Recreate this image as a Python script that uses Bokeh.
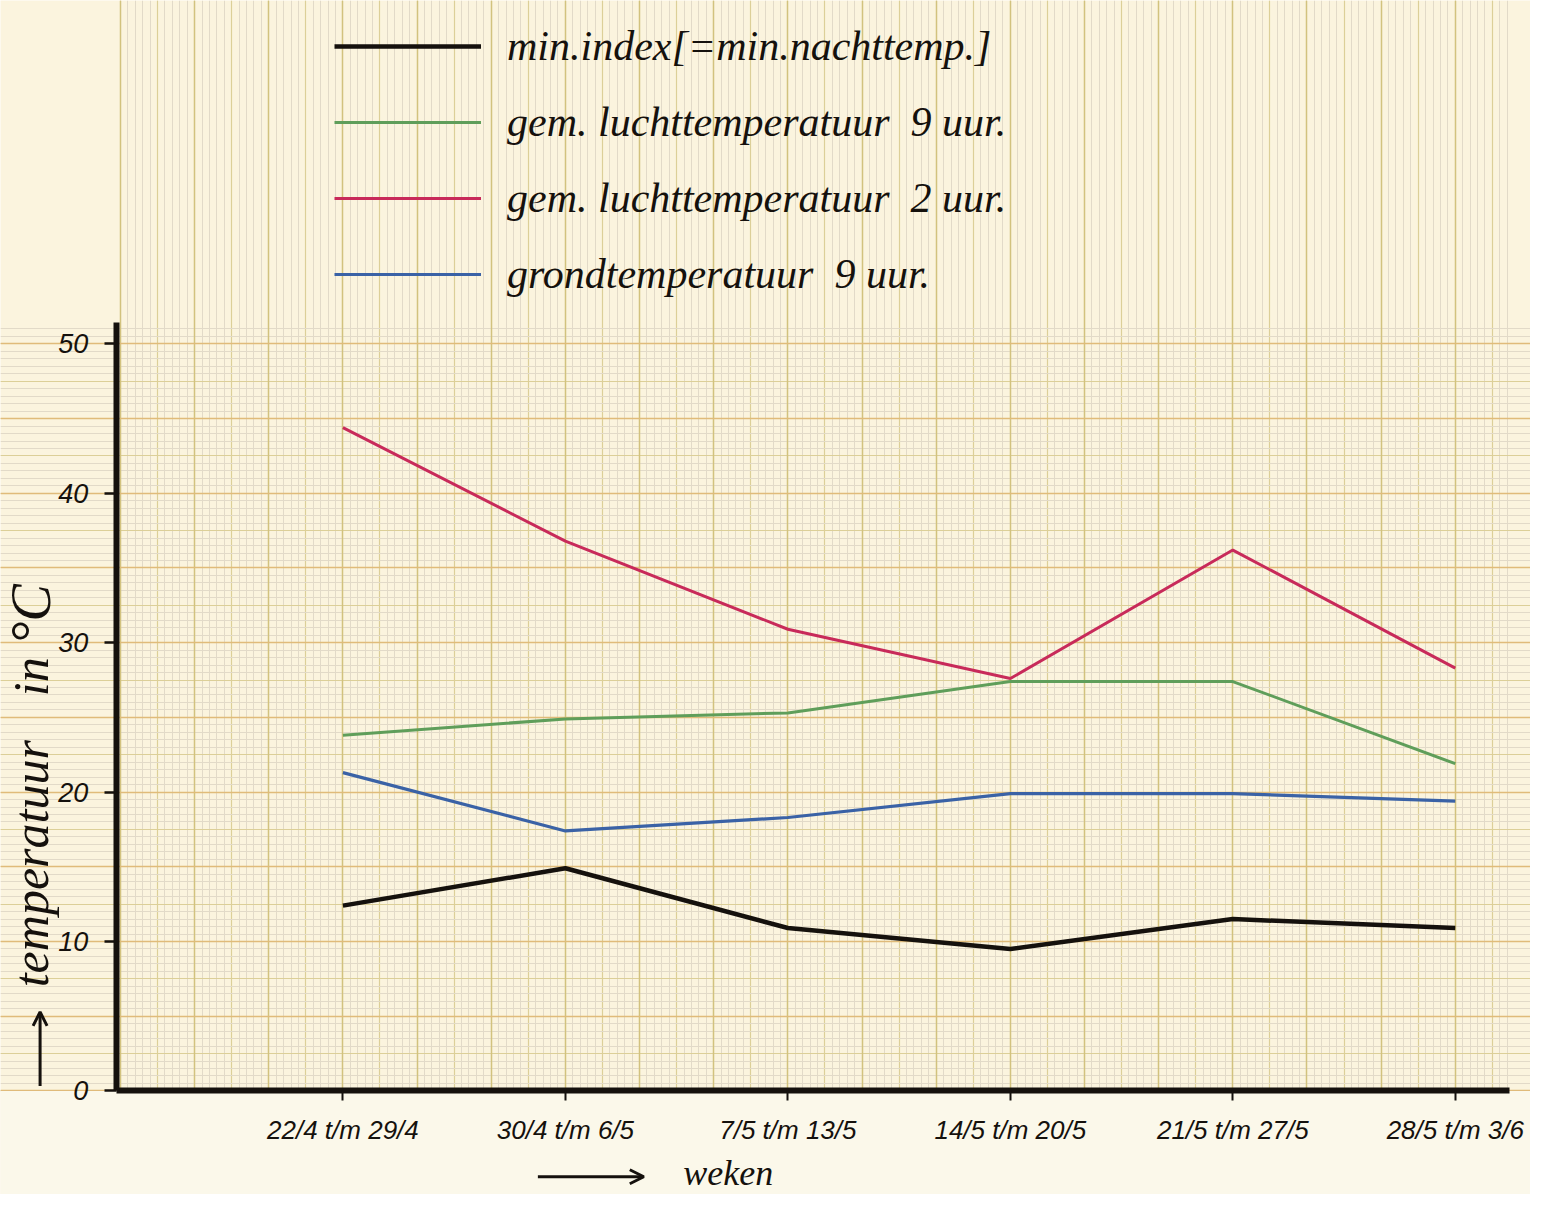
from math import pi
from bokeh.plotting import figure
from bokeh.models import (Range1d, LinearAxis, Grid, SingleIntervalTicker, FixedTicker,
                          Legend, LegendItem, Label, Arrow, OpenHead, BoxAnnotation)
from bokeh.embed import file_html
from bokeh.resources import INLINE

# ---- data ----
weeks = ["22/4 t/m 29/4", "30/4 t/m 6/5", "7/5 t/m 13/5",
         "14/5 t/m 20/5", "21/5 t/m 27/5", "28/5 t/m 3/6"]
week_idx = [0, 1, 2, 3, 4, 5]
min_index = [12.4, 14.9, 10.9, 9.5, 11.5, 10.9]
lucht_9 = [23.8, 24.9, 25.3, 27.4, 27.4, 21.9]
lucht_2 = [44.4, 36.8, 30.9, 27.6, 36.2, 28.3]
grond_9 = [21.3, 17.4, 18.3, 19.9, 19.9, 19.4]
y_ticks = [0, 10, 20, 30, 40, 50]
series_labels = ["min.index[=min.nachttemp.]",
                 "gem. luchttemperatuur  9 uur.",
                 "gem. luchttemperatuur  2 uur.",
                 "grondtemperatuur  9 uur."]

INK = "#15110d"
GREEN = "#5f9e5a"
RED = "#c82a5a"
BLUE = "#3a62a6"
PAPER = "#fbf4de"
FINE = "#e2dac8"
MED = "#dccf98"
BOLD_H = "#e0bb7a"
BOLD_V = "#d2c27e"
CREAM = "#fbf8ea"
WFONT = "Liberation Serif"
NFONT = "Liberation Sans"

W, H = 1530, 1194
sx, sy = W / 1546, H / 1210
px_x = 224.8 * sx          # pixels per week
px_y = 15.14 * sy          # pixels per degree
x0 = 346 * sx              # pixel of first week
y0 = 1105 * sy             # pixel of 0 degrees (from top)

p = figure(width=W, height=H,
           x_range=Range1d(-x0 / px_x, (W - x0) / px_x),
           y_range=Range1d(-(H - y0) / px_y, y0 / px_y),
           x_axis_type=None, y_axis_type=None,
           toolbar_location=None, output_backend="svg",
           min_border=0,
           background_fill_color=PAPER, border_fill_color=CREAM,
           outline_line_color=None)

# ---- graph paper ----
p.add_layout(Grid(dimension=0, ticker=SingleIntervalTicker(interval=1 / 6, num_minor_ticks=5),
                  grid_line_color=MED, grid_line_width=1.2,
                  minor_grid_line_color=FINE, minor_grid_line_width=1))
p.add_layout(Grid(dimension=1, ticker=SingleIntervalTicker(interval=2.5, num_minor_ticks=5),
                  grid_line_color=MED, grid_line_width=1.2,
                  minor_grid_line_color=FINE, minor_grid_line_width=1))
p.add_layout(Grid(dimension=0, ticker=SingleIntervalTicker(interval=1 / 3),
                  grid_line_color=BOLD_V, grid_line_width=1.4))
p.add_layout(Grid(dimension=1, ticker=SingleIntervalTicker(interval=5),
                  grid_line_color=BOLD_H, grid_line_width=1.4))
# plain paper strip below the time axis
p.add_layout(BoxAnnotation(top=0, fill_color=CREAM, fill_alpha=1, line_color=None,
                           level="underlay"))

# ---- lines ----
r_black = p.line(week_idx, min_index, line_color=INK, line_width=4.5)
r_green = p.line(week_idx, lucht_9, line_color=GREEN, line_width=3)
r_red = p.line(week_idx, lucht_2, line_color=RED, line_width=3)
r_blue = p.line(week_idx, grond_9, line_color=BLUE, line_width=3.2)

# ---- axes ----
yax = LinearAxis(fixed_location=(117 * sx - x0) / px_x, ticker=FixedTicker(ticks=y_ticks),
                 bounds=(0, 51.4), axis_line_width=6, axis_line_color=INK,
                 major_tick_out=12, major_tick_in=0, major_tick_line_width=2.5,
                 major_tick_line_color=INK, minor_tick_line_color=None,
                 major_label_text_font=NFONT, major_label_text_font_style="italic",
                 major_label_text_font_size="27px", major_label_text_color=INK,
                 major_label_standoff=16)
p.add_layout(yax, "left")

xax = LinearAxis(fixed_location=0, ticker=FixedTicker(ticks=week_idx),
                 major_label_overrides={i: w for i, w in zip(week_idx, weeks)},
                 bounds=((117 * sx - x0) / px_x, (1525 * sx - x0) / px_x),
                 axis_line_width=6, axis_line_color=INK,
                 major_tick_out=10, major_tick_in=0, major_tick_line_width=2,
                 major_tick_line_color=INK, minor_tick_line_color=None,
                 major_label_text_font=NFONT, major_label_text_font_style="italic",
                 major_label_text_font_size="26px", major_label_text_color=INK,
                 major_label_standoff=14)
p.add_layout(xax, "below")

# ---- legend ----
legend = Legend(items=[LegendItem(label=series_labels[0], renderers=[r_black]),
                       LegendItem(label=series_labels[1], renderers=[r_green]),
                       LegendItem(label=series_labels[2], renderers=[r_red]),
                       LegendItem(label=series_labels[3], renderers=[r_blue])],
                location=(334, 896), glyph_width=147, glyph_height=46,
                label_height=46, spacing=28, padding=8, margin=0, label_standoff=26,
                label_text_font=WFONT, label_text_font_style="italic",
                label_text_font_size="42px", label_text_color=INK,
                background_fill_alpha=0, border_line_color=None)
p.add_layout(legend)

# ---- axis titles ----
lx = (31 * sx - x0) / px_x
p.add_layout(Label(x=lx, y=(y0 - 1000 * sy) / px_y, text="temperatuur", angle=pi / 2,
                   text_font=WFONT, text_font_style="italic", text_font_size="50px",
                   text_color=INK, text_align="left", text_baseline="middle"))
p.add_layout(Label(x=lx, y=(y0 - 705 * sy) / px_y, text="in", angle=pi / 2,
                   text_font=WFONT, text_font_style="italic", text_font_size="50px",
                   text_color=INK, text_align="left", text_baseline="middle"))
p.add_layout(Label(x=lx, y=(y0 - 652 * sy) / px_y, text="°C", angle=pi / 2,
                   text_font=WFONT, text_font_style="italic", text_font_size="56px",
                   text_color=INK, text_align="left", text_baseline="middle"))
ax_arrow_x = (40 * sx - x0) / px_x
p.add_layout(Arrow(x_start=ax_arrow_x, y_start=(y0 - 1100 * sy) / px_y,
                   x_end=ax_arrow_x, y_end=(y0 - 1025 * sy) / px_y,
                   line_width=3, line_color=INK,
                   end=OpenHead(size=14, line_width=3, line_color=INK)))
arrow_y = (y0 - 1192 * sy) / px_y
p.add_layout(Arrow(x_start=(543 * sx - x0) / px_x, y_start=arrow_y,
                   x_end=(650 * sx - x0) / px_x, y_end=arrow_y,
                   line_width=3, line_color=INK,
                   end=OpenHead(size=14, line_width=3, line_color=INK)))
p.add_layout(Label(x=(690 * sx - x0) / px_x, y=(y0 - 1188 * sy) / px_y, text="weken",
                   text_font=WFONT, text_font_style="italic", text_font_size="36px",
                   text_color=INK, text_align="left", text_baseline="middle"))

open("out.html", "w").write(file_html(p, INLINE))
